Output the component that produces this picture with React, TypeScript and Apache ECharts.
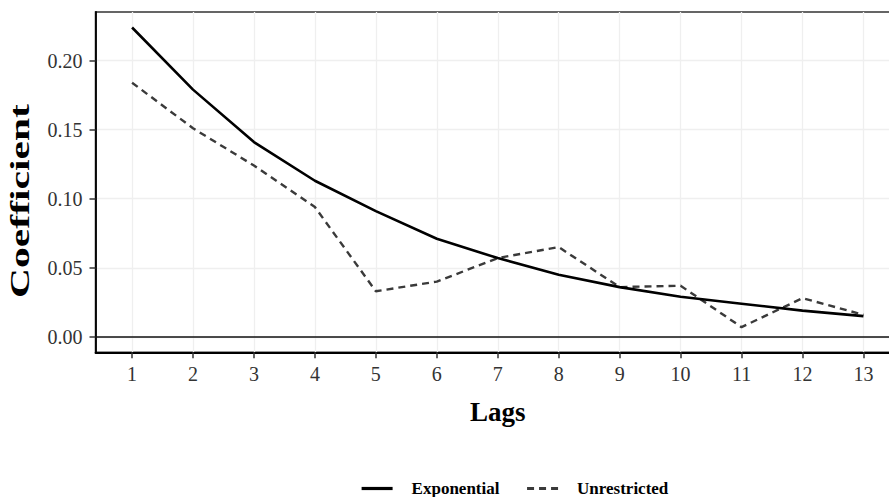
import React, { useEffect, useRef } from "react";
import * as echarts from "echarts";

const lags = [1, 2, 3, 4, 5, 6, 7, 8, 9, 10, 11, 12, 13];
const exponential = [0.224, 0.179, 0.141, 0.113, 0.091, 0.071, 0.057, 0.045, 0.036, 0.029, 0.024, 0.019, 0.015];
const unrestricted = [0.184, 0.151, 0.124, 0.094, 0.033, 0.040, 0.057, 0.065, 0.036, 0.037, 0.007, 0.028, 0.016];
const yTicks = [0, 0.05, 0.1, 0.15, 0.2];
const yTitle = "Coefficient";
const xTitle = "Lags";

const FONT = "Liberation Serif";

export default function App() {
  const ref = useRef<HTMLDivElement>(null);
  useEffect(() => {
    document.body.style.margin = "0";
    const chart = echarts.init(ref.current!, undefined, { renderer: "svg" });
    chart.setOption({
      animation: false,
      backgroundColor: "#ffffff",
      textStyle: { fontFamily: FONT },
      grid: {
        left: 95.5,
        top: 12,
        right: 0,
        bottom: 144.7,
        show: true,
        borderColor: "#333333",
        borderWidth: 1.5,
        backgroundColor: "transparent",
      },
      graphic: [
        {
          type: "text",
          x: 20,
          y: 201,
          rotation: Math.PI / 2,
          scaleX: 1.54,
          style: {
            text: yTitle,
            fontFamily: FONT,
            fontWeight: "bold",
            fontSize: 27,
            fill: "#000",
            align: "center",
            verticalAlign: "middle",
          },
        },
      ],
      legend: {
        left: 355,
        top: 475,
        itemWidth: 31,
        itemHeight: 16,
        itemGap: 26,
        itemStyle: { opacity: 0 },
        lineStyle: { width: 3.2 },
        textStyle: {
          fontFamily: FONT,
          fontWeight: "bold",
          fontSize: 17,
          lineHeight: 17,
          color: "#000",
          padding: [0, 0, 0, 14],
        },
        data: ["Exponential", "Unrestricted"],
      },
      xAxis: {
        type: "value",
        min: 0.4,
        max: 13.6,
        name: xTitle,
        nameLocation: "middle",
        nameGap: 46,
        nameTextStyle: { fontFamily: FONT, fontWeight: "bold", fontSize: 27, color: "#000" },
        axisLine: { show: true, onZero: false, lineStyle: { color: "#000", width: 1.8 } },
        axisTick: { show: true, length: 6, customValues: lags, lineStyle: { color: "#333", width: 1.5 } },
        axisLabel: {
          customValues: lags,
          margin: 12,
          fontFamily: FONT,
          fontSize: 20,
          color: "#333",
          formatter: (v: number) => String(v),
        },
        splitLine: { show: true, lineStyle: { color: "#efefef", width: 1.3 } },
      },
      yAxis: {
        type: "value",
        min: -0.0112,
        max: 0.2352,
        axisLine: { show: true, onZero: false, lineStyle: { color: "#000", width: 1.8 } },
        axisTick: { show: true, length: 6, customValues: yTicks, lineStyle: { color: "#333", width: 1.5 } },
        axisLabel: {
          customValues: yTicks,
          margin: 13,
          fontFamily: FONT,
          fontSize: 20,
          color: "#333",
          formatter: (v: number) => v.toFixed(2),
        },
        splitLine: { show: true, lineStyle: { color: "#efefef", width: 1.3 } },
      },
      series: [
        {
          name: "Exponential",
          type: "line",
          data: lags.map((l, i) => [l, exponential[i]]),
          symbol: "none",
          lineStyle: { color: "#000", width: 2.6, type: "solid" },
          itemStyle: { color: "#000" },
          z: 3,
          markLine: {
            silent: true,
            symbol: ["none", "none"],
            label: { show: false },
            lineStyle: { color: "#111", width: 1.6, type: "solid" },
            data: [{ yAxis: 0 }],
          },
        },
        {
          name: "Unrestricted",
          type: "line",
          data: lags.map((l, i) => [l, unrestricted[i]]),
          symbol: "none",
          lineStyle: { color: "#3a3a3a", width: 2.4, type: [7, 5] },
          itemStyle: { color: "#3a3a3a" },
          z: 2,
        },
      ],
    });
    return () => chart.dispose();
  }, []);
  return (
    <div style={{ width: 889, height: 497, overflow: "hidden", position: "relative" }}>
      <div ref={ref} style={{ width: 900, height: 497 }} />
    </div>
  );
}
